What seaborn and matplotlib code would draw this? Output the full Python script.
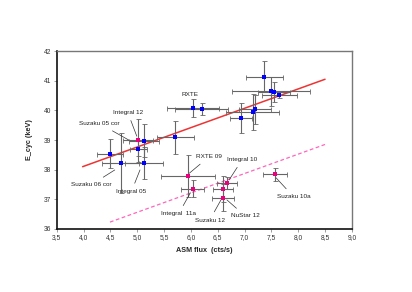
import numpy as np
import pandas as pd
import matplotlib
matplotlib.use("Agg")
import matplotlib.pyplot as plt
from matplotlib.ticker import FuncFormatter, MultipleLocator
import seaborn as sns

# ---------- data ----------
# upper group (blue, plus one magenta point sitting on the red fit)
up_flux = [4.49, 4.69, 5.02, 5.12, 5.12, 5.71, 6.04, 6.20, 6.93, 7.15, 7.19, 7.37, 7.49, 7.55, 7.65, 5.02]
up_flux_err = [0.24, 0.35, 0.16, 0.28, 0.35, 0.35, 0.48, 0.50, 0.20, 0.50, 0.30, 0.34, 0.73, 0.30, 0.33, 0.28]
up_ecyc = [38.54, 38.22, 38.71, 38.98, 38.22, 39.09, 40.08, 40.04, 39.74, 39.95, 40.03, 41.13, 40.64, 40.62, 40.52, 38.99]
up_ecyc_err = [0.50, 1.00, 0.25, 0.55, 0.55, 0.55, 0.30, 0.20, 0.52, 0.60, 0.50, 0.52, 0.48, 0.34, 0.10, 0.72]
up_kind = ["blue"] * 15 + ["pink"]

# lower group (magenta)
lo_flux = [5.94, 6.03, 6.67, 6.60, 6.60, 7.57]
lo_flux_err = [0.50, 0.21, 0.18, 0.18, 0.20, 0.23]
lo_ecyc = [37.79, 37.36, 37.54, 37.35, 37.06, 37.85]
lo_ecyc_err = [0.70, 0.29, 0.20, 0.45, 0.45, 0.22]

# fitted lines (end points)
fit_x = [3.98, 8.50]
fit_y = [38.10, 41.05]
low_x = [4.49, 8.50]
low_y = [36.23, 38.85]

# labels: text, text position, leader end
labels = ["RXTE", "Integral 12", "Suzaku 05 cor", "Suzaku 06 cor", "Integral 05",
          "RXTE 09", "Integral  11a", "Integral 10", "Suzaku 12", "NuStar 12", "Suzaku 10a"]
label_x = [5.98, 4.82, 4.30, 4.15, 4.89, 6.34, 5.77, 6.96, 6.35, 7.01, 7.91]
label_y = [40.55, 39.94, 39.55, 37.50, 37.26, 38.44, 36.51, 38.35, 36.30, 36.44, 37.09]
tip_x = [None, 4.99, 4.84, 4.58, 5.05, 5.97, 5.99, 6.71, 6.56, 6.67, 7.59]
tip_y = [None, 39.13, 39.00, 37.99, 37.99, 37.88, 37.22, 37.65, 36.98, 36.98, 37.72]

x_ticks = [3.5, 4.0, 4.5, 5.0, 5.5, 6.0, 6.5, 7.0, 7.5, 8.0, 8.5, 9.0]
y_ticks = [36, 37, 38, 39, 40, 41, 42]

BLUE = "#0000ff"
PINK = "#e8007c"
ERR = "#666666"


def main():
    sns.set_theme(style="white")
    plt.rcParams["font.family"] = ["Liberation Sans", "DejaVu Sans"]

    up = pd.DataFrame({"flux": up_flux, "ecyc": up_ecyc, "kind": up_kind})
    lo = pd.DataFrame({"flux": lo_flux, "ecyc": lo_ecyc})

    fig = plt.figure(figsize=(4.12, 2.92), dpi=100)
    ax = fig.add_axes([0.138, 0.216, 0.716, 0.609])

    # fits
    sns.lineplot(x=fit_x, y=fit_y, ax=ax, color="#ee3333", lw=1.1, zorder=2)
    sns.lineplot(x=low_x, y=low_y, ax=ax, color="#ff66bb", lw=0.9,
                 linestyle=(0, (3, 2)), zorder=2)

    # error bars
    ax.errorbar(up_flux, up_ecyc, xerr=up_flux_err, yerr=up_ecyc_err, fmt="none",
                ecolor=ERR, elinewidth=0.8, capsize=1.8, capthick=0.6, zorder=3)
    ax.errorbar(lo_flux, lo_ecyc, xerr=lo_flux_err, yerr=lo_ecyc_err, fmt="none",
                ecolor=ERR, elinewidth=0.8, capsize=1.8, capthick=0.6, zorder=3)

    # markers
    sns.scatterplot(data=up[up["kind"] == "blue"], x="flux", y="ecyc", ax=ax,
                    marker="s", color=BLUE, s=6, linewidth=0, zorder=4)
    sns.scatterplot(data=up[up["kind"] == "pink"], x="flux", y="ecyc", ax=ax,
                    marker="s", color=PINK, s=11, linewidth=0, zorder=4)
    sns.scatterplot(data=lo, x="flux", y="ecyc", ax=ax,
                    marker="s", color=PINK, s=11, linewidth=0, zorder=4)

    # labels with leader lines
    for t, tx, ty, px, py in zip(labels, label_x, label_y, tip_x, tip_y):
        if px is None:
            ax.text(tx, ty, t, fontsize=4.6, ha="center", va="center", color="#222222")
        else:
            ax.annotate(t, xy=(px, py), xytext=(tx, ty), fontsize=4.6, ha="center",
                        va="center", color="#222222",
                        arrowprops=dict(arrowstyle="-", color="#333333", lw=0.5,
                                        shrinkA=2, shrinkB=0))

    ax.set_xlim(3.5, 9.0)
    ax.set_ylim(36, 42)
    ax.set_xticks(x_ticks)
    ax.set_yticks(y_ticks)
    ax.xaxis.set_major_formatter(FuncFormatter(lambda v, p: f"{v:.1f}".replace(".", ",")))
    ax.tick_params(axis="both", labelsize=4.8, length=2, width=0.5, color="#777777",
                   labelcolor="#333333", pad=2, direction="out")
    ax.tick_params(bottom=True, left=True)

    ax.set_xlabel("ASM flux  (cts/s)", fontsize=5.2, fontweight="bold", labelpad=4)
    ax.set_ylabel("E_cyc (keV)", fontsize=5.2, fontweight="bold", labelpad=8)

    for side in ["left", "bottom"]:
        ax.spines[side].set_color("#111111")
        ax.spines[side].set_linewidth(1.2)
    for side in ["top", "right"]:
        ax.spines[side].set_color("#777777")
        ax.spines[side].set_linewidth(1.0)

    fig.savefig("out.png", dpi=100)


if __name__ == "__main__":
    main()
